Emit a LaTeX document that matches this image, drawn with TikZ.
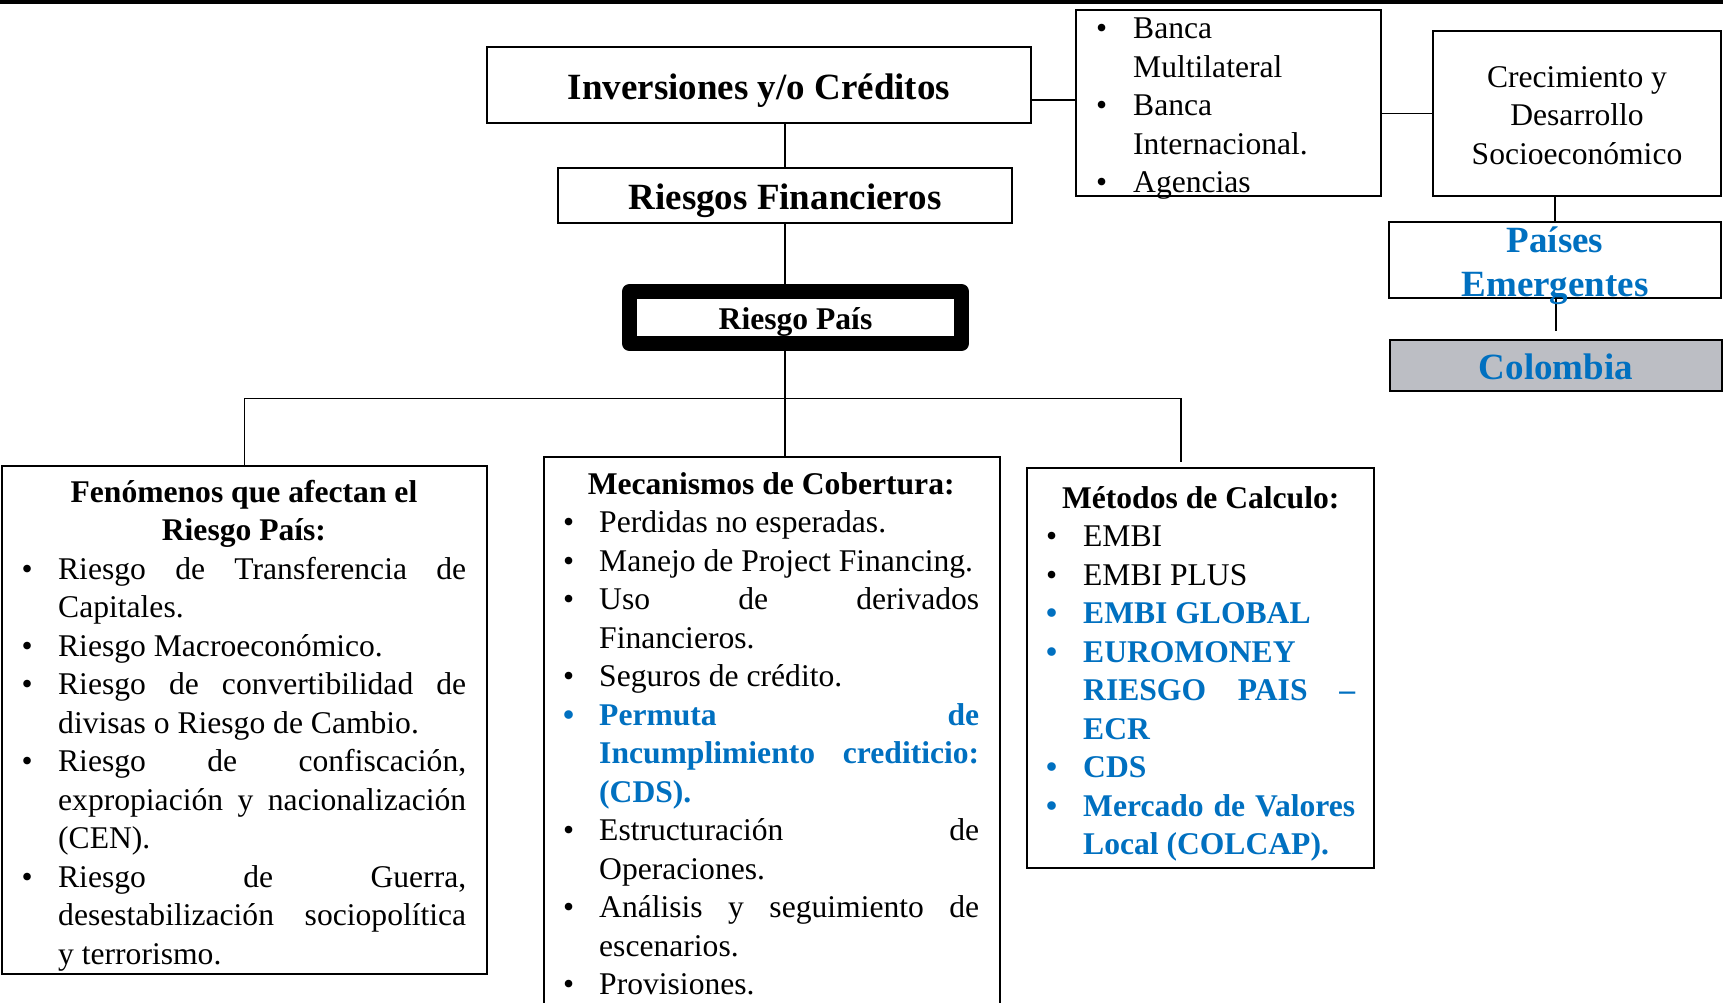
\documentclass[tikz,border=0pt]{standalone}
\usepackage{fontspec}
\setmainfont{Liberation Serif}
\definecolor{blu}{HTML}{0070C0}
\definecolor{gry}{HTML}{BCBEC4}
\newcommand\Bul[1]{\makebox[#1][l]{\textbullet}}
\newcommand\fbody{\fontsize{31.6pt}{38.46pt}\selectfont}
\newcommand\ftitle{\fontsize{37pt}{44pt}\selectfont\bfseries}
\pgfdeclarelayer{bg}
\pgfdeclarelayer{lines}
\pgfsetlayers{bg,lines,main}
\begin{document}
\begin{tikzpicture}[x=1pt,y=-1pt,
  box/.style={draw,line width=2pt,fill=white,rectangle,inner sep=0pt},
  conn/.style={line width=1.3pt},
  txt/.style={inner sep=0pt,anchor=base},
  ltxt/.style={inner sep=0pt,anchor=base west}]
\begin{pgfonlayer}{bg}
\fill[white] (0,0) rectangle (1723,1002);
\end{pgfonlayer}
\path[use as bounding box] (0,0) rectangle (1723,1002);
\fill (0,0) rectangle (1723,4);

% boxes
\node[box,minimum width=544pt,minimum height=76pt] (inv) at (759,85) {};
\node[box,minimum width=454pt,minimum height=55pt] (rf) at (785,195.5) {};
\node[draw,line width=15pt,line join=round,fill=white,inner sep=0pt,
      minimum width=332pt,minimum height=52pt] (rp) at (795.5,317.5) {};
\node[box,minimum width=305pt,minimum height=186pt] (banca) at (1228.5,103) {};
\node[box,minimum width=288pt,minimum height=165pt] (crec) at (1577,113.5) {};
\node[box,minimum width=332pt,minimum height=76pt] (pe) at (1555,260) {};
\node[box,fill=gry,minimum width=332pt,minimum height=51pt] (co) at (1556,365.5) {};
\node[box,minimum width=485pt,minimum height=508pt] (fen) at (244.5,720) {};
\node[box,minimum width=456pt,minimum height=553pt] (mec) at (772,733.5) {};
\node[box,minimum width=347pt,minimum height=400pt] (met) at (1200.5,668) {};

% connectors
\coordinate (busL) at (244.5,398.5);
\coordinate (busR) at (1181,398.5);
\coordinate (metTop) at (busR |- met.north);
\coordinate (ie) at ([yshift=-15pt]inv.east);
\coordinate (coTop) at ([yshift=8pt]co.north);
\begin{pgfonlayer}{lines}
\draw[conn] (inv.south -| rf.north) -- (rf.north);
\draw[conn] (rf.south) -- (rf.south |- mec.north);
\draw[conn] (fen.north) -- (fen.north |- busL) -- (busR) -- ([yshift=5pt]metTop);
\draw[conn] (ie) -- (ie -| banca.west);
\draw[conn] (crec.west) -- (crec.west -| banca.east);
\draw[conn] (pe.north) -- (pe.north |- crec.south);
\draw[conn] (coTop |- pe.south) -- (coTop);
\end{pgfonlayer}

% texts
\node[txt,font=\ftitle] (invT) at (759,99) {Inversiones y/o Créditos};
\node[txt,font=\ftitle] (rfT) at (785,209) {Riesgos Financieros};
\node[txt,font=\fontsize{31.6pt}{38pt}\selectfont\bfseries] (rpT) at (795.5,329) {Riesgo País};
\node[txt,font=\ftitle,text=blu] (coT) at (1556,379.5) {Colombia};
\node[txt] (peT) at (1555,252.5) {\ftitle\color{blu}\vtop{\baselineskip=44pt
  \hbox to 332pt{\hfil Países\hfil}
  \hbox to 332pt{\hfil Emergentes\hfil}}};
\node[txt] (crecT) at (1577,87.5) {\fbody\vtop{\baselineskip=38.3pt
  \hbox to 288pt{\hfil Crecimiento y\hfil}
  \hbox to 288pt{\hfil Desarrollo\hfil}
  \hbox to 288pt{\hfil Socioeconómico\hfil}}};
\node[ltxt] (bancaT) at (1096,38.5) {\fbody\vtop{\baselineskip=38.5pt
  \hbox{\Bul{37pt}Banca}
  \hbox{\hspace*{37pt}Multilateral}
  \hbox{\Bul{37pt}Banca}
  \hbox{\hspace*{37pt}Internacional.}
  \hbox{\Bul{37pt}Agencias}}};

\node[ltxt] (fenT) at (21.5,502.5) {\fbody\vtop{\baselineskip=38.46pt
  \hbox to 444.5pt{\hfil\bfseries Fenómenos que afectan el\hfil}
  \hbox to 444.5pt{\hfil\bfseries Riesgo País:\hfil}
  \hbox to 444.5pt{\Bul{36.5pt}Riesgo\hfill de\hfill Transferencia\hfill de}
  \hbox to 444.5pt{\hspace*{36.5pt}Capitales.\hfil}
  \hbox to 444.5pt{\Bul{36.5pt}Riesgo Macroeconómico.\hfil}
  \hbox to 444.5pt{\Bul{36.5pt}Riesgo\hfill de\hfill convertibilidad\hfill de}
  \hbox to 444.5pt{\hspace*{36.5pt}divisas o Riesgo de Cambio.\hfil}
  \hbox to 444.5pt{\Bul{36.5pt}Riesgo\hfill de\hfill confiscación,}
  \hbox to 444.5pt{\hspace*{36.5pt}expropiación\hfill y\hfill nacionalización}
  \hbox to 444.5pt{\hspace*{36.5pt}(CEN).\hfil}
  \hbox to 444.5pt{\Bul{36.5pt}Riesgo\hfill de\hfill Guerra,}
  \hbox to 444.5pt{\hspace*{36.5pt}desestabilización\hfill sociopolítica}
  \hbox to 444.5pt{\hspace*{36.5pt}y terrorismo.\hfil}}};

\node[ltxt] (mecT) at (563,494.5) {\fbody\vtop{\baselineskip=38.46pt
  \hbox to 416pt{\hfil\bfseries Mecanismos de Cobertura:\hfil}
  \hbox to 416pt{\Bul{36pt}Perdidas no esperadas.\hfil}
  \hbox to 416pt{\Bul{36pt}Manejo de Project Financing.\hfil}
  \hbox to 416pt{\Bul{36pt}Uso\hfill de\hfill derivados}
  \hbox to 416pt{\hspace*{36pt}Financieros.\hfil}
  \hbox to 416pt{\Bul{36pt}Seguros de crédito.\hfil}
  \hbox to 416pt{\color{blu}\bfseries\Bul{36pt}Permuta\hfill de}
  \hbox to 416pt{\color{blu}\bfseries\hspace*{36pt}Incumplimiento\hfill crediticio:}
  \hbox to 416pt{\color{blu}\bfseries\hspace*{36pt}(CDS).\hfil}
  \hbox to 416pt{\Bul{36pt}Estructuración\hfill de}
  \hbox to 416pt{\hspace*{36pt}Operaciones.\hfil}
  \hbox to 416pt{\Bul{36pt}Análisis\hfill y\hfill seguimiento\hfill de}
  \hbox to 416pt{\hspace*{36pt}escenarios.\hfil}
  \hbox to 416pt{\Bul{36pt}Provisiones.\hfil}}};

\node[ltxt] (metT) at (1046,508.5) {\fbody\vtop{\baselineskip=38.46pt
  \hbox to 309pt{\hfil\bfseries Métodos de Calculo:\hfil}
  \hbox to 309pt{\Bul{37pt}EMBI\hfil}
  \hbox to 309pt{\Bul{37pt}EMBI PLUS\hfil}
  \hbox to 309pt{\color{blu}\bfseries\Bul{37pt}EMBI GLOBAL\hfil}
  \hbox to 309pt{\color{blu}\bfseries\Bul{37pt}EUROMONEY\hfil}
  \hbox to 309pt{\color{blu}\bfseries\hspace*{37pt}RIESGO\hfill PAIS\hfill –}
  \hbox to 309pt{\color{blu}\bfseries\hspace*{37pt}ECR\hfil}
  \hbox to 309pt{\color{blu}\bfseries\Bul{37pt}CDS\hfil}
  \hbox to 309pt{\color{blu}\bfseries\Bul{37pt}Mercado\hfill de\hfill Valores}
  \hbox to 309pt{\color{blu}\bfseries\hspace*{37pt}Local (COLCAP).\hfil}}};
\end{tikzpicture}
\end{document}
